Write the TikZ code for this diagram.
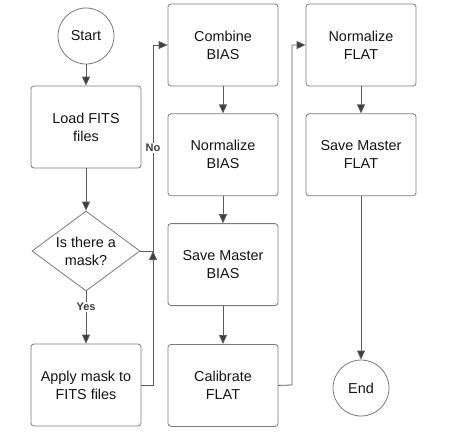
\documentclass[tikz,border=0pt]{standalone}
\usepackage{fontspec}
\setmainfont{Liberation Sans}
\usetikzlibrary{shapes.geometric,arrows.meta,positioning}
\definecolor{fcborder}{RGB}{120,122,128}
\definecolor{fcline}{RGB}{88,92,100}
\definecolor{fchead}{RGB}{58,62,72}
\definecolor{fctext}{RGB}{20,20,20}
\definecolor{fclabel}{RGB}{60,60,60}

\begin{document}
\begin{tikzpicture}[
  x=1pt, y=-1pt,
  node distance=27pt,
  stepbox/.style={rectangle, rounded corners=3pt, draw=fcborder, fill=white, line width=0.8pt, minimum width=110pt, minimum height=82pt, align=center, text=fctext, font=\fontsize{14.4}{18}\selectfont},
  endpoint/.style={circle, draw=fcborder, fill=white, line width=0.8pt, minimum size=56pt, inner sep=0pt, text=fctext, font=\fontsize{14.4}{18}\selectfont},
  decision/.style={diamond, draw=fcborder, fill=white, line width=0.8pt, minimum width=108pt, minimum height=80pt, aspect=1.35, inner sep=1pt, align=center, text=fctext, font=\fontsize{14.4}{18}\selectfont},
  arrow/.style={-{Triangle[length=9pt,width=8pt,fill=fchead]}, draw=fcline, line width=0.8pt},
  branch/.style={font=\bfseries\fontsize{11}{13}\selectfont, text=fclabel, fill=white, inner sep=1.5pt}
]
\useasboundingbox (0,0) rectangle (462,437);

% Mask branch
\node[endpoint] (start) at (86,36) {Start};
\node[stepbox] (load) at (86,127) {Load FITS\\files};
\node[decision] (mask) at (86,251) {Is there a\\mask?};
\node[stepbox] (apply) at (86,385) {Apply mask to\\FITS files};

% BIAS column
\node[stepbox] (combine) at (223,45) {Combine\\BIAS};
\node[stepbox, below=of combine] (normbias) {Normalize\\BIAS};
\node[stepbox, below=of normbias] (savebias) {Save Master\\BIAS};
\node[stepbox, below=38pt of savebias] (calflat) {Calibrate\\FLAT};

% FLAT column
\node[stepbox] (normflat) at (361,45) {Normalize\\FLAT};
\node[stepbox, below=of normflat] (saveflat) {Save Master\\FLAT};
\node[endpoint] (end) at (361,388) {End};

% Junction points
\coordinate (nojoin) at (153,251);
\coordinate (flatjoin) at (292,385);

% Arrows
\draw[arrow] (start) -- (load);
\draw[arrow] (load) -- (mask);
\draw[arrow] (mask) -- node[branch, pos=0.3] {Yes} (apply);
\draw[arrow] (apply.east) -| (nojoin);
\draw[arrow] (mask.east) -- (nojoin) |- node[branch, pos=0.25] {No} (combine.west);
\draw[arrow] (combine) -- (normbias);
\draw[arrow] (normbias) -- (savebias);
\draw[arrow] (savebias) -- (calflat);
\draw[arrow] (calflat.east) -- (flatjoin) |- (normflat.west);
\draw[arrow] (normflat) -- (saveflat);
\draw[arrow] (saveflat) -- (end);

\end{tikzpicture}
\end{document}
